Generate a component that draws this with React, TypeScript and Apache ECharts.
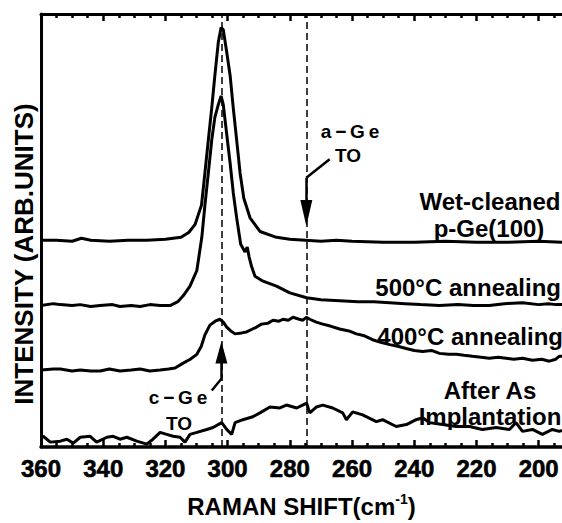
import React, { useEffect, useRef } from "react";
import * as echarts from "echarts";

// ---- axis ticks ----
const xMajor = [200, 220, 240, 260, 280, 300, 320, 340, 360];
const xMinor = [195, 205, 210, 215, 225, 230, 235, 245, 250, 255, 265, 270, 275, 285, 290, 295, 305, 310, 315, 325, 330, 335, 345, 350, 355];
const xMin = 192.5;
const xMax = 360;
const yMax = 444;

// ---- reference lines (cm-1) ----
const cGePos = 302;
const aGePos = 274.7;

// ---- spectra (x: Raman shift cm-1, y: intensity arb. units) ----
const wetX = [360, 355, 350, 347, 344, 338, 332, 326, 320, 315, 312.5, 310.5, 308.4, 307.3, 306.2, 305.1, 304.1, 303.0, 302.1, 301.4, 300.3, 299.2, 298.2, 297.1, 296.0, 294.8, 292.8, 289.6, 284.3, 280, 275, 270, 265, 260, 250, 240, 230, 220, 210, 200, 192.5];
const wetY = [212, 212, 211, 214, 212, 211, 212, 212, 213, 215, 220, 228, 248, 281, 315, 348, 381, 415, 430, 428, 405, 381, 348, 315, 281, 255, 235, 221, 215, 213, 212, 211, 212, 211, 210, 210, 211, 210, 210, 211, 210];

const a500X = [360, 356, 353.8, 350, 347.4, 344, 341, 337, 334.6, 331, 328.1, 325, 321.7, 318.5, 316, 314.3, 312.1, 309.9, 308.3, 307.3, 306.2, 305.1, 304.1, 303.0, 302.1, 301.4, 300.3, 299.2, 298.2, 297.1, 295.8, 294.4, 293.7, 293.1, 292.3, 291.2, 288.6, 284.3, 280.0, 274.6, 270, 264.0, 258, 253, 247.9, 243, 238, 231.9, 226, 221, 215.9, 211, 205.2, 200, 197, 194.3, 192.5];
const a500Y = [145, 147, 146, 145, 146, 144, 145, 146, 144, 145, 144, 146, 145, 145, 149, 155, 165, 181, 215, 248, 281, 315, 338, 351, 360, 351, 321, 291, 261, 235, 208, 200, 205, 195, 185, 175, 170, 165, 158, 153, 151, 150, 149, 149, 148, 147, 146, 145, 146, 145, 145, 147, 148, 146, 147, 146, 146];

const a400X = [360, 356, 353.8, 350, 347.4, 344, 341, 338, 334.6, 331, 328.1, 325, 321.7, 319, 316.9, 314.3, 312, 309.9, 308.5, 307.3, 305.7, 304, 302.5, 301.4, 300.3, 299, 297.6, 295.5, 293.9, 292, 290.7, 289.1, 287, 285.4, 283.5, 282.2, 280.5, 279, 277, 275.8, 274.7, 273.6, 271.5, 269.4, 267, 264, 261, 258.6, 256, 253.4, 250.5, 247.9, 245, 242.6, 240, 237.3, 234.5, 231.9, 229, 226.5, 224, 221.3, 218.5, 215.9, 213, 210.5, 208, 205.2, 202, 199, 196.6, 194.5, 193.4, 192.5];
const a400Y = [79, 80, 80, 78, 79, 78, 78, 80, 78, 79, 80, 78, 79, 80, 81, 86, 90, 95, 103, 115, 125, 129, 131, 128, 123, 119, 116, 117, 118, 121, 123, 126, 127, 130, 129, 131, 130, 133, 131, 130, 133, 131, 128, 126, 124, 121, 119, 116, 114, 110, 107, 105, 103, 101, 99, 98, 99, 96, 95, 95, 94, 93, 92, 91, 92, 91, 90, 91, 89, 90, 88, 90, 93, 93];

const implX = [360, 359.3, 357.0, 353.8, 351.7, 349.6, 347.4, 344.2, 342.1, 338.8, 336.8, 334.6, 332.4, 329.2, 326.0, 324.0, 321.7, 319.6, 317.5, 315.3, 313.7, 312.1, 309.9, 306.7, 304.7, 301.9, 300.3, 298.7, 297.6, 295.1, 291.9, 289.6, 286.4, 283.2, 281.1, 277.8, 274.6, 273.6, 271.5, 269.4, 266.2, 263.0, 261.8, 259.8, 256.6, 252.2, 250.2, 245.8, 242.5, 239.4, 237.3, 235.1, 230.9, 226.5, 222.2, 218.1, 213.7, 209.4, 207.3, 205.2, 202.0, 198.8, 195.6, 193.4, 192.5];
const implY = [9, 11, 5, 6, 8, 4, 10, 11, 5, 10, 11, 8, 10, 6, 3, 8, 15, 13, 11, 10, 5, 13, 15, 18, 20, 25, 18, 13, 25, 28, 31, 35, 41, 40, 43, 40, 45, 35, 41, 43, 40, 35, 28, 36, 33, 26, 28, 21, 23, 28, 30, 25, 23, 21, 21, 18, 20, 18, 25, 16, 18, 13, 18, 16, 17];

const FONT = "'Liberation Sans', Arial, Helvetica, sans-serif";

function zip(xs: number[], ys: number[]) {
  return xs.map((x, i) => [x, ys[i]]);
}

function text(x: number, y: number, t: string, size: number, align: string = "center", rotation = 0) {
  return {
    type: "text",
    x,
    y,
    rotation,
    style: {
      text: t,
      font: `bold ${size}px ${FONT}`,
      fill: "#000",
      align,
      textAlign: align,
      verticalAlign: "middle",
      textVerticalAlign: "middle",
    },
  };
}

export default function App() {
  const ref = useRef<HTMLDivElement>(null);
  useEffect(() => {
    const chart = echarts.init(ref.current!, null, { renderer: "svg" });
    const baseX = {
      type: "value",
      min: xMin,
      max: xMax,
      inverse: true,
      splitLine: { show: false },
      axisLabel: { show: false },
    };
    const option: any = {
      animation: false,
      backgroundColor: "#fff",
      textStyle: { fontFamily: FONT, fontWeight: "bold" },
      grid: { left: 41, right: 0, top: 14, bottom: 65 },
      xAxis: [
        {
          ...baseX,
          position: "bottom",
          axisLine: { show: true, lineStyle: { color: "#000", width: 3.5 } },
          axisTick: { show: true, inside: true, length: 7, lineStyle: { color: "#000", width: 2.5 }, customValues: xMajor },
          axisLabel: {
            show: true,
            customValues: xMajor,
            margin: 9,
            color: "#000",
            fontSize: 24,
            fontWeight: "bold",
            fontFamily: FONT,
            textBorderColor: "#000",
            textBorderWidth: 0.6,
          },
          name: "{a|RAMAN SHIFT(cm}{s|-1}{a|)}",
          nameLocation: "middle",
          nameGap: 45,
          nameTextStyle: {
            rich: {
              a: { fontSize: 24, fontWeight: "bold", fontFamily: FONT, color: "#000", lineHeight: 28 },
              s: { fontSize: 14, fontWeight: "bold", fontFamily: FONT, color: "#000", verticalAlign: "top", lineHeight: 14 },
            },
          },
        },
        {
          ...baseX,
          position: "bottom",
          axisLine: { show: false },
          axisTick: { show: true, inside: true, length: 4, lineStyle: { color: "#000", width: 2.5 }, customValues: xMinor },
        },
        {
          ...baseX,
          position: "top",
          axisLine: { show: true, lineStyle: { color: "#000", width: 3 } },
          axisTick: { show: true, inside: true, length: 7, lineStyle: { color: "#000", width: 2.5 }, customValues: xMajor },
        },
        {
          ...baseX,
          position: "top",
          axisLine: { show: false },
          axisTick: { show: true, inside: true, length: 4, lineStyle: { color: "#000", width: 2.5 }, customValues: xMinor },
        },
      ],
      yAxis: {
        type: "value",
        min: 0,
        max: yMax,
        axisLine: { show: true, lineStyle: { color: "#000", width: 3 } },
        axisTick: { show: false },
        axisLabel: { show: false },
        splitLine: { show: false },
      },
      series: [
        {
          type: "line",
          data: zip(wetX, wetY),
          showSymbol: false,
          lineStyle: { color: "#000", width: 3 },
          markLine: {
            silent: true,
            symbol: ["none", "none"],
            label: { show: false },
            lineStyle: { color: "#000", width: 1.5, type: [7, 4] },
            data: [{ xAxis: cGePos }, { xAxis: aGePos }],
          },
        },
        {
          type: "line",
          data: zip(a500X, a500Y),
          showSymbol: false,
          lineStyle: { color: "#000", width: 3 },
          markLine: {
            silent: true,
            label: { show: false },
            lineStyle: { color: "#000", width: 2.5, type: "solid" },
            data: [
              [
                { coord: [267.2, 295], symbol: "none" },
                { coord: [aGePos, 276], symbol: "none" },
              ],
              [
                { coord: [aGePos, 276], symbol: "none" },
                { coord: [aGePos, 240], symbol: "triangle", symbolSize: [12, 26] },
              ],
              [
                { coord: [305.1, 58], symbol: "none" },
                { coord: [cGePos, 70], symbol: "none" },
              ],
              [
                { coord: [cGePos, 70], symbol: "none" },
                { coord: [cGePos, 97], symbol: "triangle", symbolSize: [12, 22] },
              ],
            ],
          },
        },
        {
          type: "line",
          data: zip(a400X, a400Y),
          showSymbol: false,
          lineStyle: { color: "#000", width: 3 },
        },
        {
          type: "line",
          data: zip(implX, implY),
          showSymbol: false,
          lineStyle: { color: "#000", width: 3 },
        },
      ],
      graphic: [
        text(350, 131, "a\u2009\u2212\u2009G\u2009e", 19),
        text(348, 155, "TO", 19),
        text(178, 397, "c\u2009\u2212\u2009G\u2009e", 19),
        text(179, 423, "TO", 19),
        text(490, 201, "Wet-cleaned", 24),
        text(489, 228, "p-Ge(100)", 24),
        text(561, 287, "500°C annealing", 24, "right"),
        text(563, 336, "400°C annealing", 24, "right"),
        text(490, 390, "After As", 24),
        text(490, 416, "Implantation", 24),
        text(24, 254, "INTENSITY (ARB.UNITS)", 26, "center", Math.PI / 2),
      ],
    };
    chart.setOption(option);
    return () => chart.dispose();
  }, []);
  return (
    <div
      ref={ref}
      style={{ position: "fixed", left: 0, top: 0, width: 562, height: 523, background: "#fff" }}
    />
  );
}
